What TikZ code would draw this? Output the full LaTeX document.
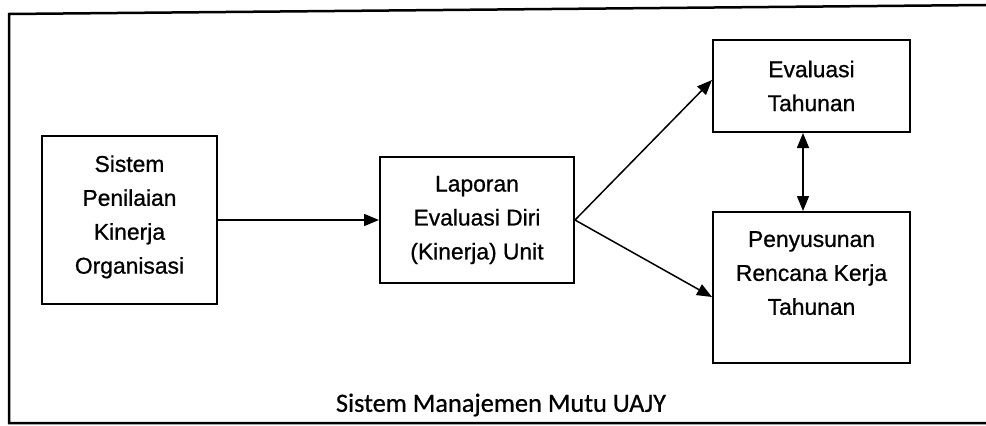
\documentclass[tikz,border=0pt]{standalone}
\usepackage{fontspec}
\setmainfont{Liberation Sans}[FakeBold=0.8]
\newfontfamily\judulfont{Carlito}[FakeBold=0.6]
\usetikzlibrary{arrows.meta}
\tikzset{
	kotak/.style={draw=black, line width=0.4mm, align=center, inner sep=0pt,
		font=\fontsize{13}{19.3}\selectfont},
	panah/.style={line width=0.3mm, -{Triangle[length=3mm,width=2.4mm]}},
	panahdua/.style={line width=0.3mm, {Triangle[length=3mm,width=2.4mm]}-{Triangle[length=3mm,width=2.4mm]}}
}

\begin{document}
\begin{tikzpicture}[x=0.2mm,y=-0.2mm]
				\useasboundingbox (0,0) rectangle (986,425);
				
				% bingkai luar
				\draw[line width=0.5mm] (986,5) -- (9,14) -- (9,423) -- (986,423);
				
				\node[kotak, minimum width=35mm, minimum height=33.6mm, text depth=2.2mm] (spk) at (129.5,220) {Sistem\\Penilaian\\Kinerja\\Organisasi};
				\node[kotak, minimum width=38.8mm, minimum height=25.2mm] (laporan) at (477,220) {Laporan\\Evaluasi Diri\\(Kinerja) Unit};
				\node[kotak, minimum width=39.4mm, minimum height=18.4mm] (evaluasi) at (811.5,86) {Evaluasi\\Tahunan};
				\node[kotak, minimum width=39.4mm, minimum height=30.2mm, text depth=5.8mm] (rencana) at (811.5,287.5) {Penyusunan\\Rencana Kerja\\Tahunan};
				
				\node[font=\judulfont\fontsize{15}{18}\selectfont] (judul) at (501,405) {Sistem Manajemen Mutu UAJY};
				
				% panah
				\draw[panah] (spk) -- (laporan);
				\draw[panah] (laporan.east) -- ([yshift=1.2mm]evaluasi.west);
				\draw[panah] (laporan.east) -- ([yshift=-1.9mm]rencana.west);
				\draw[panahdua] ([xshift=-1.7mm]evaluasi.south) -- ([xshift=-1.7mm]rencana.north);
\end{tikzpicture}
\end{document}
